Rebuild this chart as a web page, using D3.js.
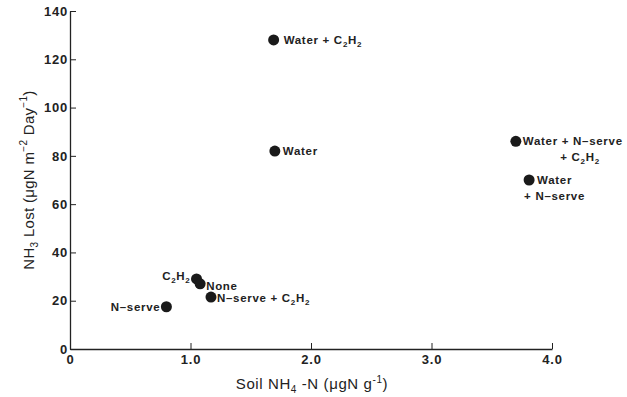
<!DOCTYPE html>
<html>
<head>
<meta charset="utf-8">
<script src="https://cdn.jsdelivr.net/npm/d3@7"></script>
<style>
  body { margin: 0; background: #fff; }
  svg { font-family: 'Liberation Sans', Arial, sans-serif; }
</style>
</head>
<body>
<svg width="627" height="397"></svg>
<script>
// treatments, soil NH4-N (x) and NH3 lost (y)
const TREATMENTS = ['Water + C2H2', 'Water', 'Water + N-serve + C2H2', 'Water + N-serve', 'C2H2', 'None', 'N-serve + C2H2', 'N-serve'];
const SOIL_NH4 = [1.69, 1.70, 3.70, 3.81, 1.05, 1.08, 1.17, 0.80];
const NH3_LOST = [128, 82, 86, 70, 29, 27, 21.5, 17.5];
const X_TICKS = [0, 1, 2, 3, 4];
const Y_TICKS = [0, 20, 40, 60, 80, 100, 120, 140];

const svg = d3.select('svg');
const x = d3.scaleLinear().domain([0, 4]).range([70, 552]);
const y = d3.scaleLinear().domain([0, 140]).range([349, 11]);

// x axis
const xAxis = svg.append('g')
    .attr('transform', `translate(0,${y(0)})`)
    .call(d3.axisBottom(x).tickValues(X_TICKS).tickSize(-6).tickSizeOuter(0)
      .tickFormat(d => d === 0 ? '0' : d3.format('.1f')(d)));
xAxis.select('.domain').attr('stroke', '#222').attr('stroke-width', 1.3);
xAxis.selectAll('.tick line').attr('stroke', '#222');
xAxis.selectAll('.tick text')
    .attr('y', 6)
    .attr('font-size', 13)
    .attr('font-weight', 'bold')
    .attr('letter-spacing', 0.8)
    .attr('fill', '#222')
    .attr('font-family', "'Liberation Sans', Arial, sans-serif");

// y axis
const yAxis = svg.append('g')
    .attr('transform', `translate(${x(0)},0)`)
    .call(d3.axisLeft(y).tickValues(Y_TICKS).tickSize(-6).tickSizeOuter(0));
yAxis.select('.domain').attr('stroke', '#222').attr('stroke-width', 1.3);
yAxis.selectAll('.tick line').attr('stroke', '#222');
yAxis.selectAll('.tick text')
    .attr('x', -2)
    .attr('font-size', 13)
    .attr('font-weight', 'bold')
    .attr('letter-spacing', 0.8)
    .attr('fill', '#222')
    .attr('font-family', "'Liberation Sans', Arial, sans-serif");

// axis titles
const xTitle = svg.append('text')
    .attr('x', 312).attr('y', 389)
    .attr('text-anchor', 'middle')
    .attr('font-size', 15)
    .attr('letter-spacing', 0.6)
    .attr('fill', '#222');
xTitle.append('tspan').text('Soil NH');
xTitle.append('tspan').attr('dy', 4).attr('font-size', 10).text('4');
xTitle.append('tspan').attr('dy', -4).text(' -N (\u03bcgN  g');
xTitle.append('tspan').attr('dy', -6).attr('font-size', 10).text('-1');
xTitle.append('tspan').attr('dy', 6).text(')');

const yTitle = svg.append('text')
    .attr('transform', 'translate(34,180) rotate(-90)')
    .attr('text-anchor', 'middle')
    .attr('font-size', 15)
    .attr('letter-spacing', 0.3)
    .attr('fill', '#222');
yTitle.append('tspan').text('NH');
yTitle.append('tspan').attr('dy', 4).attr('font-size', 10).text('3');
yTitle.append('tspan').attr('dy', -4).text(' Lost (\u03bcgN  m');
yTitle.append('tspan').attr('dy', -7).attr('font-size', 10).text('\u22122');
yTitle.append('tspan').attr('dy', 7).text(' Day');
yTitle.append('tspan').attr('dy', -7).attr('font-size', 10).text('\u22121');
yTitle.append('tspan').attr('dy', 7).text(')');

// points
const points = TREATMENTS.map((t, i) => ({ name: t, sx: SOIL_NH4[i], ny: NH3_LOST[i] }));
svg.append('g')
  .selectAll('circle')
  .data(points)
  .enter().append('circle')
    .attr('cx', d => x(d.sx))
    .attr('cy', d => y(d.ny))
    .attr('r', 5.5)
    .attr('fill', '#1a1a1a');

// labels: text pieces with subscripts, offset from point
const LABEL_POS = {
  'Water + C2H2': [[10, 4, 'start', 'Water + C|2|H|2']],
  'Water': [[8, 4, 'start', 'Water']],
  'Water + N-serve + C2H2': [[7, 4, 'start', 'Water + N\u2013serve'], [84, 20, 'end', '+ C|2|H|2']],
  'Water + N-serve': [[8, 4, 'start', 'Water'], [-5, 20, 'start', '+ N\u2013serve']],
  'C2H2': [[-6, 1, 'end', 'C|2|H|2']],
  'None': [[6, 6, 'start', 'None']],
  'N-serve + C2H2': [[6, 5, 'start', 'N\u2013serve + C|2|H|2']],
  'N-serve': [[-6, 4, 'end', 'N\u2013serve']]
};

const labels = svg.append('g')
    .attr('font-size', 11.5)
    .attr('font-weight', 'bold')
    .attr('letter-spacing', 0.7)
    .attr('fill', '#222');

points.forEach(p => {
  LABEL_POS[p.name].forEach(([dx, dy, anchor, str]) => {
    const t = labels.append('text')
        .attr('x', x(p.sx) + dx)
        .attr('y', y(p.ny) + dy)
        .attr('text-anchor', anchor);
    str.split('|').forEach((part, k) => {
      const sub = k % 2 === 1;
      t.append('tspan')
          .attr('dy', sub ? 3 : (k > 0 ? -3 : 0))
          .attr('font-size', sub ? 8 : 11.5)
          .text(part);
    });
  });
});
</script>
</body>
</html>
